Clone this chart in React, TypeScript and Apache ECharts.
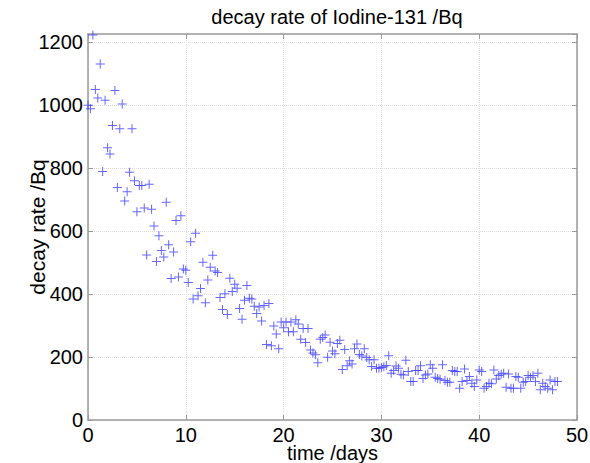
import React, { useEffect, useRef } from "react";
import * as echarts from "echarts";

const titleText = "decay rate of Iodine-131 /Bq";
const xAxisName = "time /days";
const yAxisName = "decay rate /Bq";
const sampleStepDays = 0.25;
const decayRate: number[] = [
  999, 988, 1222, 1049, 1022, 1130, 789, 1015, 864, 844, 935, 1046, 738, 924, 1003, 695,
  724, 786, 924, 759, 661, 744, 744, 673, 524, 748, 669, 616, 503, 585, 538, 517,
  691, 556, 449, 533, 633, 454, 648, 479, 475, 436, 566, 384, 593, 394, 417, 501,
  372, 444, 485, 523, 473, 468, 389, 351, 401, 335, 450, 408, 431, 418, 354, 320,
  380, 427, 386, 384, 361, 338, 359, 314, 363, 240, 370, 236, 298, 273, 226, 311,
  293, 311, 280, 311, 280, 318, 305, 256, 290, 246, 290, 222, 213, 207, 182, 256,
  262, 270, 199, 247, 219, 210, 243, 253, 160, 224, 172, 188, 178, 226, 241, 208,
  203, 226, 198, 191, 170, 191, 164, 164, 167, 169, 173, 204, 148, 157, 171, 164,
  145, 143, 190, 154, 122, 122, 157, 157, 172, 132, 143, 146, 175, 164, 136, 132,
  129, 175, 125, 120, 120, 157, 154, 154, 101, 122, 162, 125, 138, 117, 106, 127,
  159, 154, 101, 106, 117, 115, 159, 130, 141, 146, 148, 104, 146, 101, 101, 138,
  136, 101, 120, 122, 141, 136, 141, 122, 148, 96, 117, 106, 101, 127, 96, 122,
  122,
];
const xTicks = { min: 0, max: 50, interval: 10 };
const yTicks = { min: 0, max: 1225, interval: 200 };

export default function App() {
  const ref = useRef<HTMLDivElement>(null);
  useEffect(() => {
    if (!ref.current) return;
    const chart = echarts.init(ref.current, undefined, { renderer: "svg" });
    const font = "'Liberation Sans', Arial, Helvetica, sans-serif";
    const points = decayRate.map((v, i) => [i * sampleStepDays, v]);
    const axisLine = { show: true, onZero: false, lineStyle: { color: "#9a9a9a", width: 1.5 } };
    const tick = { show: true, inside: true, length: 5, lineStyle: { color: "#9a9a9a", width: 1 } };
    const yLabelFmt = (v: number) => (v % 200 === 0 ? String(v) : "");
    chart.setOption({
      animation: false,
      backgroundColor: "#ffffff",
      title: {
        text: titleText,
        left: 332,
        top: 2,
        textAlign: "center",
        textStyle: { fontFamily: font, fontSize: 20, fontWeight: "normal", color: "#000" },
      },
      grid: {
        left: 88,
        right: 13,
        top: 34,
        bottom: 43,
        containLabel: false,
        outerBoundsMode: "none",
      },
      xAxis: [
        {
          type: "value",
          position: "bottom",
          ...xTicks,
          name: xAxisName,
          nameLocation: "middle",
          nameGap: 23,
          nameMoveOverlap: false,
          nameTextStyle: { fontFamily: font, fontSize: 20, color: "#000", verticalAlign: "top" },
          axisLine,
          axisTick: tick,
          axisLabel: { fontFamily: font, fontSize: 20, color: "#000", margin: 5 },
          splitLine: { show: true, lineStyle: { color: "#dddddd", type: "dotted", width: 1 } },
        },
        {
          type: "value",
          position: "top",
          ...xTicks,
          axisLine,
          axisTick: tick,
          axisLabel: { show: false },
          splitLine: { show: false },
        },
      ],
      yAxis: [
        {
          type: "value",
          position: "left",
          ...yTicks,
          name: yAxisName,
          nameLocation: "middle",
          nameGap: 40,
          nameMoveOverlap: false,
          nameTextStyle: { fontFamily: font, fontSize: 21, color: "#000" },
          axisLine,
          axisTick: tick,
          axisLabel: {
            fontFamily: font,
            fontSize: 20,
            color: "#000",
            margin: 5,
            showMaxLabel: false,
            formatter: yLabelFmt,
          },
          splitLine: { show: true, lineStyle: { color: "#dddddd", type: "dotted", width: 1 } },
        },
        {
          type: "value",
          position: "right",
          ...yTicks,
          axisLine,
          axisTick: tick,
          axisLabel: { show: false },
          splitLine: { show: false },
        },
      ],
      series: [
        {
          type: "scatter",
          xAxisIndex: 0,
          yAxisIndex: 0,
          data: points,
          symbol: "path://M4,0 h1 v4 h4 v1 h-4 v4 h-1 v-4 h-4 v-1 h4 z",
          symbolSize: 9,
          itemStyle: { color: "#4040ff", opacity: 0.8 },
        },
      ],
    });
    return () => chart.dispose();
  }, []);
  return (
    <div
      ref={ref}
      style={{ position: "fixed", left: 0, top: 0, width: 590, height: 463, background: "#fff" }}
    />
  );
}
